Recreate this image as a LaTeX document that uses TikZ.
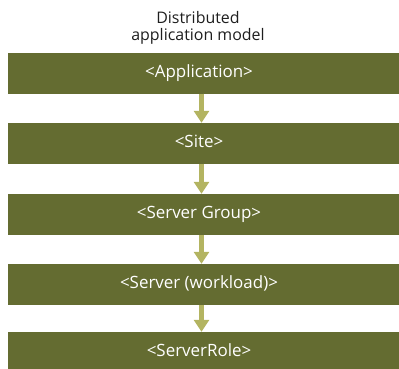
\documentclass[tikz,border=0pt]{standalone}
\usepackage{fontspec}
\setmainfont{Open Sans}
\usetikzlibrary{arrows.meta}
\definecolor{boxgreen}{HTML}{646C31}
\definecolor{arrowgreen}{HTML}{B3B461}
\definecolor{titlegray}{HTML}{1E1E1E}
\tikzset{
  layer/.style={fill=boxgreen, draw=none, minimum width=391bp, minimum height=41bp, inner sep=0pt},
  layertext/.style={text=white, font=\fontsize{17}{19}\selectfont, inner sep=0pt, text height=12bp, text depth=4bp, xshift=-4.5bp},
  flow/.style={draw=arrowgreen, line width=5bp, -{Triangle[width=15bp,length=12bp]}, shorten >=0pt}
}
\begin{document}
\begin{tikzpicture}[x=1bp,y=-1bp]
\useasboundingbox (0,0) rectangle (399,369);
\node[font=\fontsize{16}{17}\selectfont, text=titlegray, align=center, inner sep=0pt] (title) at (198,28) {Distributed\\application model};
\node[layer, label={[layertext]center:<Application>}] (app) at (203.5,73) {};
\node[layer, label={[layertext]center:<Site>}] (site) at (203.5,143.5) {};
\node[layer, label={[layertext]center:<Server Group>}] (group) at (203.5,214.5) {};
\node[layer, label={[layertext]center:<Server (workload)>}] (server) at (203.5,284.5) {};
\node[layer, minimum height=37bp, label={[layertext, yshift=-2bp]center:<ServerRole>}] (role) at (203.5,350.5) {};
\draw[flow] (app.south -| 201.5,0) -- (site.north -| 201.5,0);
\draw[flow] (site.south -| 201.5,0) -- (group.north -| 201.5,0);
\draw[flow] (group.south -| 201.5,0) -- (server.north -| 201.5,0);
\draw[flow] (server.south -| 201.5,0) -- (role.north -| 201.5,0);
\end{tikzpicture}
\end{document}
